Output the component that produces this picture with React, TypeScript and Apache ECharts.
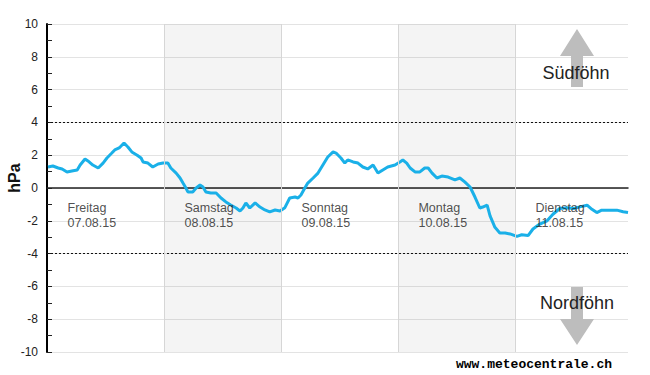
import React, { useEffect, useRef } from 'react';
import * as echarts from 'echarts';

// hours since Friday 07.08.15 00:00
const hours = [
  0.2, 1.2, 2.3, 3.1, 4.1, 5.1, 6.2, 6.8, 7.8, 8.4, 9.4, 10.5, 11.5, 12.3, 13.3, 13.9, 14.8, 15.8, 16.6, 17.4,
  18.5, 19.3, 19.7, 20.7, 21.7, 22.8, 23.8, 24.8, 25.4, 26.5, 27.3, 27.9, 28.5, 28.9, 29.9, 30.6, 31.4, 32.0, 32.6, 33.6,
  34.7, 35.7, 36.7, 37.7, 38.8, 39.6, 40.2, 40.8, 41.6, 42.7, 43.7, 44.7, 45.7, 46.8, 47.8, 48.8, 49.8, 50.9, 51.5, 52.1,
  52.9, 53.5, 54.6, 55.6, 56.6, 57.6, 58.7, 59.3, 60.3, 61.1, 61.7, 62.8, 63.8, 64.8, 65.8, 66.9, 67.9, 68.9, 69.9, 71.4,
  72.4, 73.0, 73.8, 74.5, 75.5, 76.5, 77.5, 78.2, 79.0, 80.0, 81.0, 82.3, 83.7, 84.7, 85.7, 86.8, 87.8, 88.8, 89.4, 90.3,
  90.9, 91.9, 92.9, 94.0, 95.0, 96.4, 97.4, 98.7, 99.7, 101.1, 102.6, 103.8, 105.2, 106.7, 108.1, 109.3, 110.8, 111.8, 112.8, 113.8,
  115.5, 116.9, 118.2, 119.2,
];
// pressure difference (hPa)
const hpa = [
  1.28, 1.34, 1.22, 1.16, 0.98, 1.04, 1.1, 1.4, 1.77, 1.65, 1.4, 1.22, 1.52, 1.83, 2.13, 2.32, 2.44, 2.74, 2.5, 2.2,
  2.0, 1.83, 1.59, 1.52, 1.28, 1.46, 1.52, 1.52, 1.22, 0.91, 0.61, 0.3, 0.0, -0.24, -0.24, 0.0, 0.18, 0.06, -0.24, -0.3,
  -0.3, -0.61, -0.85, -1.04, -1.22, -1.4, -1.22, -0.91, -1.22, -0.91, -1.16, -1.34, -1.46, -1.34, -1.4, -1.2, -0.61, -0.55, -0.61, -0.43,
  0.0, 0.3, 0.61, 0.91, 1.4, 1.89, 2.2, 2.13, 1.83, 1.52, 1.71, 1.59, 1.52, 1.28, 1.16, 1.4, 0.91, 1.1, 1.28, 1.4,
  1.59, 1.71, 1.52, 1.22, 0.98, 0.98, 1.22, 1.22, 0.91, 0.61, 0.73, 0.67, 0.49, 0.61, 0.37, 0.06, -0.55, -1.22, -1.16, -1.04,
  -1.7, -2.4, -2.74, -2.74, -2.8, -2.95, -2.85, -2.9, -2.5, -2.2, -2.0, -1.6, -1.25, -1.2, -1.25, -1.15, -1.05, -1.3, -1.5, -1.35,
  -1.35, -1.35, -1.45, -1.5,
];

const dayStarts = [0, 24, 48, 72, 96];
const dayNames = ['Freitag', 'Samstag', 'Sonntag', 'Montag', 'Dienstag'];
const dayDates = ['07.08.15', '08.08.15', '09.08.15', '10.08.15', '11.08.15'];
const shadedDays = [[24, 48], [72, 96]];
const foehnLimits = [4, -4];
const xMax = 119.2;
const yMin = -10;
const yMax = 10;
const yStep = 2;
const dayLabelY = -1.68;

const FONT = '"Liberation Sans", Arial, sans-serif';

export default function App() {
  const ref = useRef<HTMLDivElement>(null);
  useEffect(() => {
    const chart = echarts.init(ref.current!, null, { renderer: 'svg' });
    const lineData = hours.map((h, i) => [h, hpa[i]]);
    const arrowColor = '#bdbdbd';
    const option: any = {
      animation: false,
      backgroundColor: '#fff',
      grid: { left: 47, right: 22, top: 24, bottom: 23, containLabel: false },
      xAxis: {
        type: 'value',
        min: 0,
        max: xMax,
        interval: 24,
        axisLine: { show: true, onZero: true, lineStyle: { color: '#222', width: 1.5 } },
        axisTick: { show: true, customValues: dayStarts.slice(1), length: 5, lineStyle: { color: '#222' } },
        axisLabel: { show: false },
        splitLine: { show: false },
      },
      yAxis: {
        type: 'value',
        min: yMin,
        max: yMax,
        interval: yStep,
        axisLine: { show: true, onZero: false, lineStyle: { color: '#000', width: 2 } },
        axisTick: { show: true, inside: true, length: 5, lineStyle: { color: '#222' } },
        minorTick: { show: true, splitNumber: 2, length: 5, lineStyle: { color: '#222' } },
        axisLabel: { color: '#222', fontSize: 12, margin: 9, fontFamily: FONT },
        splitLine: { show: true, lineStyle: { color: '#e3e3e3', width: 1 } },
      },
      series: [
        {
          type: 'line',
          z: 1,
          silent: true,
          data: lineData,
          showSymbol: false,
          lineStyle: { opacity: 0, width: 0 },
          markArea: {
            silent: true,
            itemStyle: { color: 'rgba(0,0,0,0.045)' },
            data: shadedDays.map(([a, b]) => [{ xAxis: a }, { xAxis: b }]),
          },
          markLine: {
            silent: true,
            symbol: ['none', 'none'],
            label: { show: false },
            data: [
              ...foehnLimits.map((v) => ({ yAxis: v, lineStyle: { type: [2, 2], color: '#111', width: 1 } })),
              ...dayStarts.slice(1).map((d) => ({ xAxis: d, lineStyle: { type: 'solid', color: '#d6d6d6', width: 1 } })),
            ],
          },
        },
        {
          type: 'line',
          z: 3,
          data: lineData,
          showSymbol: false,
          symbol: 'none',
          lineStyle: { color: '#1ab0e8', width: 3 },
        },
        {
          type: 'scatter',
          z: 4,
          silent: true,
          symbolSize: 1,
          itemStyle: { color: 'rgba(0,0,0,0)' },
          data: dayStarts.map((d, i) => ({ value: [d, dayLabelY], idx: i })),
          label: {
            show: true,
            position: 'right',
            distance: 20,
            align: 'left',
            formatter: (p: any) => `${dayNames[p.dataIndex]}\n${dayDates[p.dataIndex]}`,
            color: '#222',
            fontSize: 12.5,
            lineHeight: 15.5,
            fontFamily: FONT,
          },
        },
      ],
      graphic: [
        {
          type: 'polygon',
          z: 10,
          shape: { points: [[577, 29], [594, 56], [583, 56], [583, 87], [571, 87], [571, 56], [560, 56]] },
          style: { fill: arrowColor },
        },
        {
          type: 'polygon',
          z: 10,
          shape: { points: [[571, 287], [583, 287], [583, 319], [594, 319], [577, 345], [560, 319], [571, 319]] },
          style: { fill: arrowColor },
        },
        {
          type: 'text',
          z: 11,
          x: 576,
          y: 73,
          style: { text: 'Südföhn', font: `18px ${FONT}`, fill: '#222', textAlign: 'center', textVerticalAlign: 'middle' },
        },
        {
          type: 'text',
          z: 11,
          x: 577,
          y: 303,
          style: { text: 'Nordföhn', font: `18px ${FONT}`, fill: '#222', textAlign: 'center', textVerticalAlign: 'middle' },
        },
        {
          type: 'text',
          z: 11,
          x: 14,
          y: 178,
          rotation: Math.PI / 2,
          style: { text: 'hPa', font: `bold 16px ${FONT}`, fill: '#111', textAlign: 'center', textVerticalAlign: 'middle' },
        },
        {
          type: 'text',
          z: 11,
          x: 612,
          y: 364,
          style: {
            text: 'www.meteocentrale.ch',
            font: 'bold 13px "Liberation Mono", "Courier New", monospace',
            fill: '#000',
            textAlign: 'right',
            textVerticalAlign: 'middle',
          },
        },
      ],
    };
    chart.setOption(option);
    return () => chart.dispose();
  }, []);
  return (
    <div
      ref={ref}
      style={{ position: 'fixed', left: 0, top: 0, width: 650, height: 375, background: '#fff' }}
    />
  );
}
